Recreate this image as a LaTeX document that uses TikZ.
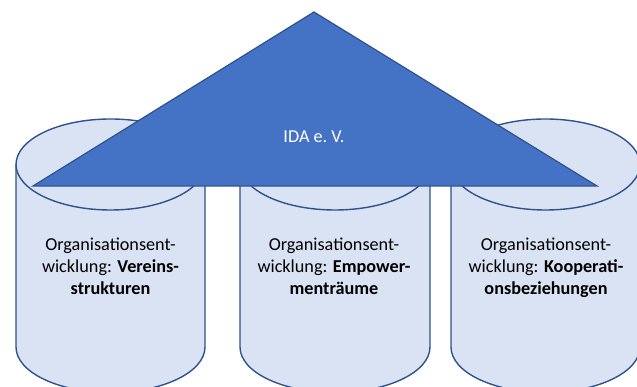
\documentclass[tikz,border=0pt]{standalone}
\usepackage{fontspec}
\setmainfont{Carlito}
\definecolor{triFill}{HTML}{4472C4}
\definecolor{edgeBlue}{HTML}{2F528F}
\definecolor{cylFill}{HTML}{DAE3F3}
\begin{document}
\begin{tikzpicture}[x=1pt,y=1pt,
  cylbody/.style={fill=cylFill,draw=edgeBlue,line width=1.4pt,line join=round},
  tri/.style={fill=triFill,draw=edgeBlue,line width=1.2pt,line join=miter},
  cyltext/.style={align=center,font=\fontsize{18.2}{22.3}\selectfont,text=black,inner sep=0pt},
  tritext/.style={font=\fontsize{18.2}{22.3}\selectfont,text=white,inner sep=0pt}]
\useasboundingbox (0,0) rectangle (637,387);
\clip (0,0) rectangle (637,387);
% cylinders
\foreach \cx/\rx/\nm in {110.5/94.5/cylA, 335/95/cylB, 545.5/94.5/cylC}{
  \coordinate (\nm) at (\cx,222.5);
  \draw[cylbody] (\cx-\rx,222.5) -- (\cx-\rx,40)
     arc[start angle=180,end angle=360,x radius=\rx,y radius=45.5]
     -- (\cx+\rx,222.5)
     arc[start angle=0,end angle=180,x radius=\rx,y radius=45.5] -- cycle;
  \draw[cylbody,fill=none] (\cx-\rx,222.5)
     arc[start angle=180,end angle=360,x radius=\rx,y radius=45.5];
}
% triangle
\coordinate (apex) at (314,375);
\coordinate (bl) at (33,201);
\coordinate (br) at (597,201);
\draw[tri] (apex) -- (bl) -- (br) -- cycle;
\node[tritext,anchor=base] (ida) at (314,244.3) {IDA e.\ V.};
% texts
\node[cyltext,anchor=base] (tA) at (110.5,92) {Organisationsent-\\wicklung: \textbf{Vereins-}\\\textbf{strukturen}};
\node[cyltext,anchor=base] (tB) at (334,92) {Organisationsent-\\wicklung: \textbf{Empower-}\\\textbf{menträume}};
\node[cyltext,anchor=base] (tC) at (546,92) {Organisationsent-\\wicklung: \textbf{Kooperati-}\\\textbf{onsbeziehungen}};
\end{tikzpicture}
\end{document}
